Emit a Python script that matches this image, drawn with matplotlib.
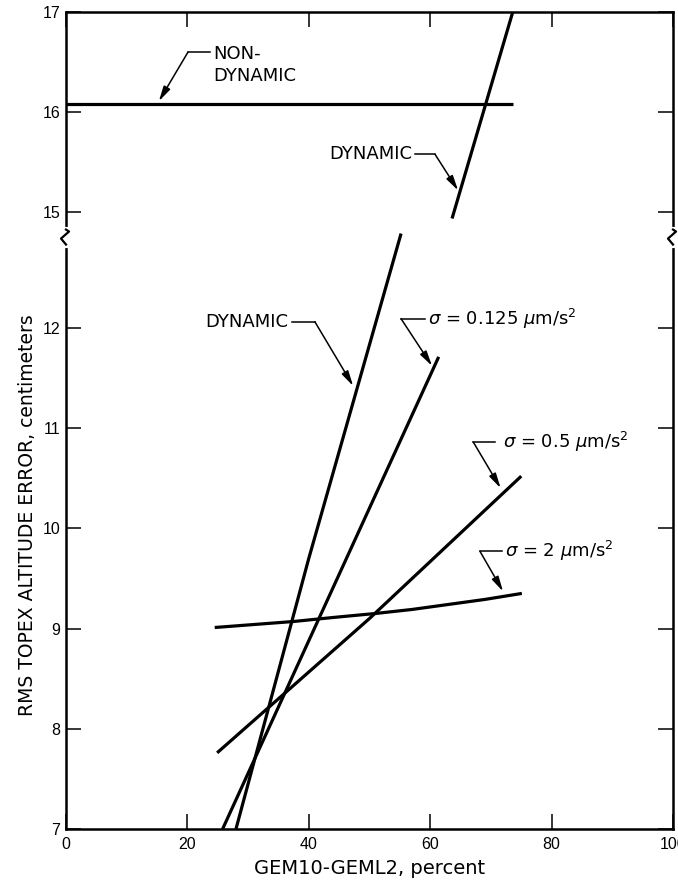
import numpy as np
import matplotlib.pyplot as plt

plt.rcParams['font.family'] = ['DejaVu Sans']
plt.rcParams['mathtext.fontset'] = 'dejavusans'

# curves (x = GEM10-GEML2 percent, y = rms error cm)
nondyn_x = [0.0, 73.6]
nondyn_y = [16.08, 16.08]
dyn_hi_x = [63.6, 73.6]
dyn_hi_y = [14.94, 17.0]
dyn_lo_x = [28.0, 40.0, 55.2]
dyn_lo_y = [7.0, 9.70, 12.94]
s0125_x = [25.8, 61.4]
s0125_y = [7.0, 11.71]
s05_x = [24.9, 50.0, 75.0]
s05_y = [7.76, 9.10, 10.52]
s2_x = [24.5, 31.0, 37.5, 44.0, 51.0, 57.0, 63.0, 69.0, 75.1]
s2_y = [9.01, 9.04, 9.07, 9.11, 9.15, 9.19, 9.24, 9.29, 9.35]

xticks = [0, 20, 40, 60, 80, 100]
yticks = [7, 8, 9, 10, 11, 12, 15, 16, 17]

# broken y axis: values between b0 and b1 are cut out
b0, b1 = 12.95, 14.80
gap = b1 - b0


def fwd(y):
    y = np.asarray(y, dtype=float)
    return np.where(y <= b0, y, np.where(y >= b1, y - gap, b0))


def inv(z):
    z = np.asarray(z, dtype=float)
    return np.where(z <= b0, z, z + gap)


fig = plt.figure(figsize=(6.78, 8.86), dpi=100)
ax = fig.add_axes([66 / 678, 57 / 886, 607 / 678, 817 / 886])
ax.set_yscale('function', functions=(fwd, inv))

lw = 2.3
for xs, ys in [(nondyn_x, nondyn_y), (dyn_hi_x, dyn_hi_y), (dyn_lo_x, dyn_lo_y),
               (s0125_x, s0125_y), (s05_x, s05_y), (s2_x, s2_y)]:
    ax.plot(xs, ys, color='black', lw=lw, solid_capstyle='butt')

ax.set_xlim(0, 100)
ax.set_ylim(7, 17)
ax.set_xticks(xticks)
ax.set_yticks(yticks)
ax.set_yticklabels([str(t) for t in yticks])
ax.minorticks_off()
ax.tick_params(direction='in', length=11, width=1.1, top=True, right=True,
               labelsize=11.5, pad=4)
ax.tick_params(axis='x', pad=6)
for lab in ax.get_xticklabels() + ax.get_yticklabels():
    lab.set_family(['Liberation Sans', 'DejaVu Sans'])
for s in ax.spines.values():
    s.set_linewidth(1.8)

ax.set_xlabel('GEM10-GEML2, percent', fontsize=14)
ax.xaxis.set_label_coords(0.5, -0.037)
ax.set_ylabel('RMS TOPEX ALTITUDE ERROR, centimeters', fontsize=13.5)
ax.yaxis.set_label_coords(-0.047, 0.384)

# leaders: text, horizontal stub, arrow to the curve
arrow = dict(arrowstyle='-|>,head_length=0.9,head_width=0.22', color='black',
             lw=1.1, shrinkA=0, shrinkB=0)


def leader(tip, elbow, stub_end):
    ax.plot([elbow[0], stub_end], [elbow[1], elbow[1]], color='black', lw=1.1)
    ax.annotate('', xy=tip, xytext=elbow, arrowprops=arrow)


fs = 13
leader((15.3, 16.11), (20.1, 16.60), 23.8)
ax.text(24.2, 16.47, 'NON-\nDYNAMIC', fontsize=fs, ha='left', va='center',
        linespacing=1.3)

leader((64.6, 15.22), (60.8, 15.58), 57.5)
ax.text(57.0, 15.58, 'DYNAMIC', fontsize=fs, ha='right', va='center')

leader((47.3, 11.42), (41.0, 12.06), 37.2)
ax.text(36.6, 12.06, 'DYNAMIC', fontsize=fs, ha='right', va='center')

leader((60.3, 11.62), (55.2, 12.09), 59.1)
ax.text(59.6, 12.09, r'$\sigma$ = 0.125 $\mu$m/s$^2$', fontsize=fs,
        ha='left', va='center')

leader((71.6, 10.40), (67.1, 10.86), 70.6)
ax.text(72.0, 10.86, r'$\sigma$ = 0.5 $\mu$m/s$^2$', fontsize=fs,
        ha='left', va='center')

leader((72.0, 9.37), (68.2, 9.77), 71.8)
ax.text(72.3, 9.77, r'$\sigma$ = 2 $\mu$m/s$^2$', fontsize=fs,
        ha='left', va='center')

# zigzag break marks on both spines
dx, dy = 1 / 607, 1 / 817
yb = (12.89 - 7) / (float(fwd(17)) - 7)
zx = np.array([0, 3, -5, 0]) * dx
zy = yb + np.array([9, 7, 0, -6]) * dy
for xs in (0, 1):
    ax.plot([xs, xs], [yb - 7 * dy, yb + 10 * dy], color='white', lw=3,
            transform=ax.transAxes, clip_on=False, zorder=5)
    ax.plot(xs + zx, zy, color='black', lw=1.6, transform=ax.transAxes,
            clip_on=False, zorder=6)

fig.savefig('out.png', dpi=100)
